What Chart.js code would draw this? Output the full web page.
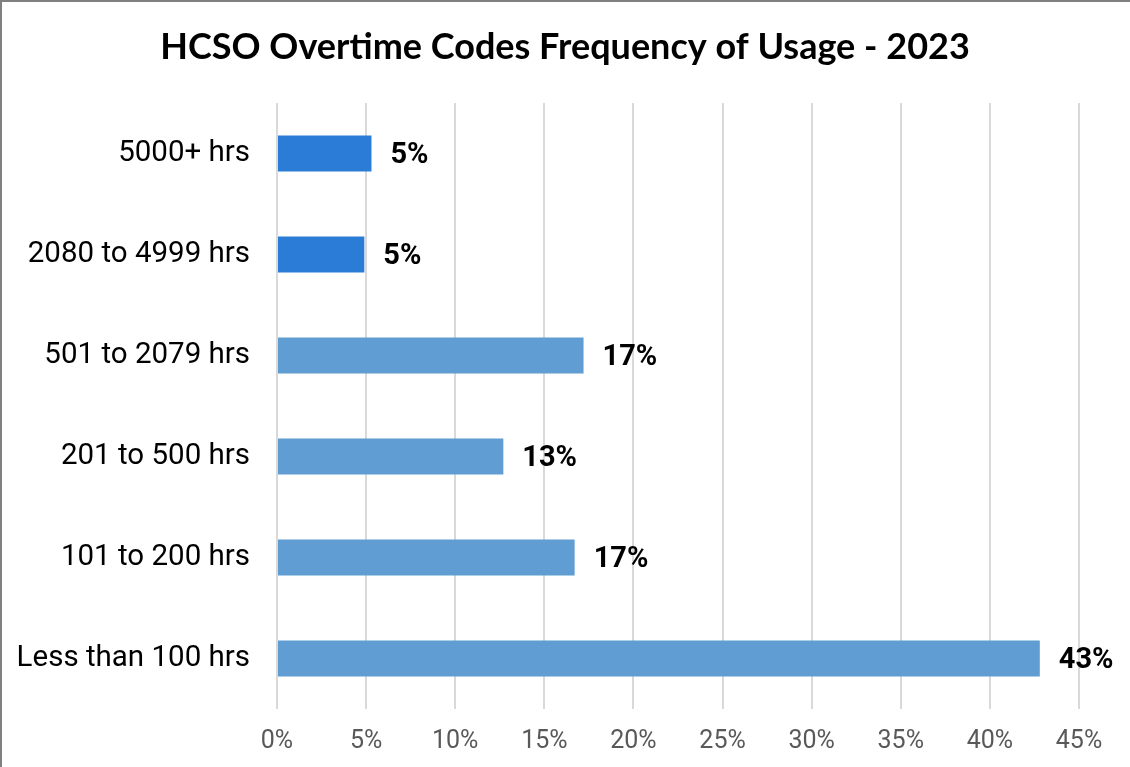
<!DOCTYPE html>
<html>
<head>
<meta charset="utf-8">
<script src="https://cdn.jsdelivr.net/npm/chart.js@4.4.0/dist/chart.umd.min.js"></script>
<style>
  html, body { margin: 0; padding: 0; background: #fff; }
  #wrap { width: 1130px; height: 767px; position: relative; }
</style>
</head>
<body>
<div id="wrap"><canvas id="c" width="1130" height="767"></canvas></div>
<script>
const chartTitle = "HCSO Overtime Codes Frequency of Usage - 2023";
const categories = ["5000+ hrs", "2080 to 4999 hrs", "501 to 2079 hrs", "201 to 500 hrs", "101 to 200 hrs", "Less than 100 hrs"];
const values = [5.3, 4.9, 17.2, 12.7, 16.7, 42.8];
const valueLabels = ["5%", "5%", "17%", "13%", "17%", "43%"];
const barColors = ["#2b7cd6", "#2b7cd6", "#5f9dd2", "#5f9dd2", "#5f9dd2", "#5f9dd2"];
const xTicks = [0, 5, 10, 15, 20, 25, 30, 35, 40, 45];

const labelPlugin = {
  id: 'valueLabels',
  afterDatasetsDraw(chart) {
    const ctx = chart.ctx;
    const meta = chart.getDatasetMeta(0);
    ctx.save();
    ctx.font = 'bold 29px Roboto';
    ctx.fillStyle = '#000';
    ctx.textAlign = 'left';
    ctx.textBaseline = 'middle';
    meta.data.forEach((bar, i) => {
      ctx.fillText(valueLabels[i], bar.x + 19, bar.y + 2);
    });
    ctx.restore();
  }
};

const titlePlugin = {
  id: 'centeredTitle',
  afterDraw(chart) {
    const ctx = chart.ctx;
    ctx.save();
    ctx.font = 'bold 36px Lato';
    ctx.fillStyle = '#000';
    ctx.textAlign = 'center';
    ctx.textBaseline = 'alphabetic';
    ctx.fillText(chartTitle, chart.width / 2, 59);
    ctx.restore();
  }
};

const borderPlugin = {
  id: 'frame',
  afterDraw(chart) {
    const ctx = chart.ctx;
    ctx.save();
    ctx.strokeStyle = '#808080';
    ctx.lineWidth = 2;
    ctx.beginPath();
    ctx.moveTo(1, chart.height);
    ctx.lineTo(1, 1);
    ctx.lineTo(chart.width, 1);
    ctx.stroke();
    ctx.restore();
  }
};

new Chart(document.getElementById('c'), {
  type: 'bar',
  data: {
    labels: categories,
    datasets: [{
      data: values,
      backgroundColor: barColors,
      borderWidth: 0,
      barPercentage: 0.356,
      categoryPercentage: 1.0
    }]
  },
  options: {
    indexAxis: 'y',
    responsive: false,
    animation: false,
    devicePixelRatio: 1,
    layout: { padding: { left: 0, right: 51, top: 103, bottom: 0 } },
    plugins: {
      legend: { display: false },
      tooltip: { enabled: false },
      title: { display: false }
    },
    scales: {
      x: {
        min: 0,
        max: 45,
        afterBuildTicks(scale) { scale.ticks = xTicks.map(v => ({ value: v })); },
        afterFit(scale) { scale.height = 58; },
        grid: { color: '#d9d9d9', lineWidth: 2, drawTicks: false },
        border: { display: false },
        ticks: {
          padding: 18,
          color: '#595959',
          font: { family: 'Roboto', size: 25 },
          callback: (v) => v + '%'
        }
      },
      y: {
        afterFit(scale) { scale.width = 277; },
        grid: { display: false, drawTicks: false },
        border: { display: false },
        ticks: {
          padding: 27,
          color: '#000',
          font: { family: 'Roboto', size: 29.5 }
        }
      }
    }
  },
  plugins: [labelPlugin, titlePlugin, borderPlugin]
});
</script>
</body>
</html>
